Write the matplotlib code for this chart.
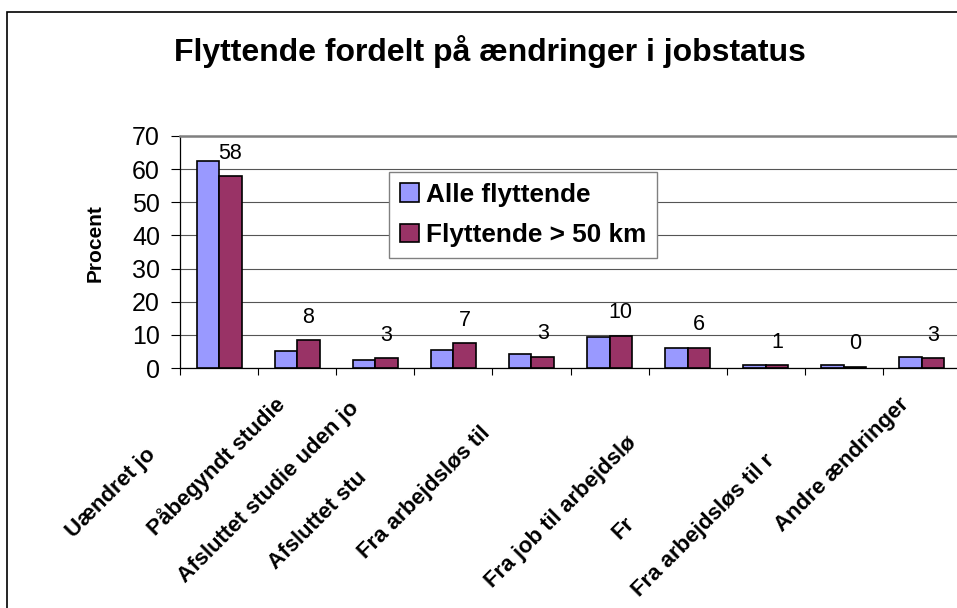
import matplotlib
matplotlib.use("Agg")
import matplotlib.pyplot as plt
from matplotlib.patches import Rectangle, Patch
import numpy as np

plt.rcParams['font.family'] = ['Liberation Sans', 'DejaVu Sans']

# data
categories = ["Uændret jo", "Påbegyndt studie", "Afsluttet studie uden jo",
              "Afsluttet stu", "Fra arbejdsløs til", "",
              "Fra job til arbejdslø", "Fr", "Fra arbejdsløs til r",
              "Andre ændringer"]
alle = [62.5, 5.1, 2.4, 5.4, 4.2, 9.5, 5.9, 0.9, 0.8, 3.2]
over50 = [57.8, 8.4, 2.9, 7.4, 3.4, 9.8, 6.1, 0.8, 0.4, 2.9]
series_names = ["Alle flyttende", "Flyttende > 50 km"]
yticks = [0, 10, 20, 30, 40, 50, 60, 70]

# how far each (clipped) tick label sits down its 45 degree line, in px
label_shift = [51, 0, 4, 74, 29, 0, 39, 119, 57, 0]

BLUE = "#9999FF"
MAROON = "#993366"
PX = 72 / 100.0  # points per pixel at dpi 100

fig = plt.figure(figsize=(9.57, 6.08), dpi=100)
ax = fig.add_axes([180 / 957, 1 - 368 / 608, 781 / 957, 232 / 608])

x = np.arange(len(categories))
w = 0.288
ax.bar(x - w / 2, alle, w, color=BLUE, edgecolor="black", linewidth=1.2,
       label=series_names[0], zorder=3)
ax.bar(x + w / 2, over50, w, color=MAROON, edgecolor="black", linewidth=1.2,
       label=series_names[1], zorder=3)

for xi, v in zip(x, over50):
    ax.annotate(f"{v:.0f}", xy=(xi + w / 2, v), xytext=(0, 23 * PX),
                textcoords="offset points", ha="center", va="center",
                fontsize=15.5)

ax.set_xlim(-0.5, len(categories) - 0.5)
ax.set_ylim(0, 70)
ax.set_yticks(yticks)
ax.tick_params(axis="y", labelsize=18, length=9 * PX, width=0.8, pad=8)
ax.set_xticks(np.arange(len(categories) + 1) - 0.5)
ax.set_xticklabels([])
ax.tick_params(axis="x", length=7 * PX, width=0.8)
ax.yaxis.grid(True, color="#555555", linewidth=0.8, zorder=0)
ax.set_axisbelow(True)

ax.spines["right"].set_visible(False)
ax.spines["top"].set_color("#808080")
ax.spines["top"].set_linewidth(1.8)
ax.spines["left"].set_linewidth(0.9)
ax.spines["bottom"].set_linewidth(0.9)

for i, (lab, s) in enumerate(zip(categories, label_shift)):
    if not lab:
        continue
    ax.annotate(lab, xy=(i - 0.2, 0), xycoords=("data", "axes fraction"),
                xytext=(-s * PX, -(33 + s) * PX), textcoords="offset points",
                rotation=45, rotation_mode="anchor", ha="right", va="center",
                fontsize=16, fontweight="bold", annotation_clip=False)

handles = [Patch(facecolor=BLUE, edgecolor="black", linewidth=1.2),
           Patch(facecolor=MAROON, edgecolor="black", linewidth=1.2)]
leg = fig.legend(handles, series_names, loc="upper left",
                 bbox_to_anchor=(389 / 957, 1 - 172 / 608),
                 prop={"size": 18.8, "weight": "bold"},
                 frameon=True, fancybox=False, framealpha=1,
                 edgecolor="#808080", borderpad=0.42, borderaxespad=0,
                 handlelength=0.73, handleheight=0.73, handletextpad=0.25,
                 labelspacing=0.62)
leg.get_frame().set_linewidth(1.0)

fig.text(490 / 957, 1 - 51 / 608, "Flyttende fordelt på ændringer i jobstatus",
         ha="center", va="center", fontsize=23, fontweight="bold")
fig.text(95 / 957, 1 - 243 / 608, "Procent", rotation=90, ha="center",
         va="center", fontsize=15, fontweight="bold")

fig.patches.append(Rectangle((7 / 957, -0.05), 1.1, 1 - 12 / 608 + 0.05,
                             transform=fig.transFigure, fill=False,
                             edgecolor="black", linewidth=1.2))

fig.savefig("out.png", dpi=100)
